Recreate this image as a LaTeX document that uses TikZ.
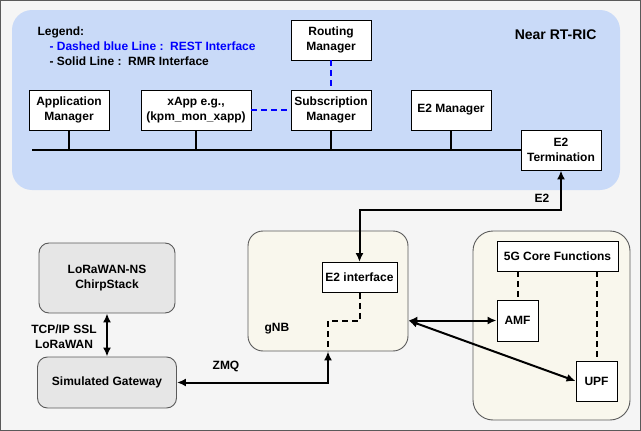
\documentclass[tikz,border=0pt]{standalone}
\usepackage{fontspec}
\setmainfont{Liberation Sans}
\usepackage{tikz}
\usetikzlibrary{arrows.meta}
\usetikzlibrary{calc}
\definecolor{ricblue}{RGB}{201,218,248}
\definecolor{cream}{RGB}{249,247,237}
\definecolor{boxgray}{RGB}{230,230,230}
\definecolor{framegray}{RGB}{245,245,245}
\definecolor{edgegray}{RGB}{90,90,90}

\begin{document}
\begin{tikzpicture}[x=1pt,y=-1pt,font=\bfseries\fontsize{12}{15}\selectfont,
    blk/.style={draw=black,fill=white,align=center,inner sep=0pt,line width=0.9pt},
    grayblk/.style={draw=edgegray,fill=boxgray,align=center,inner sep=0pt,line width=0.9pt,rounded corners=10pt},
    holder/.style={draw=edgegray,fill=cream,inner sep=0pt,line width=0.9pt},
    link/.style={line width=2pt},
    rest/.style={line width=2pt,draw=blue,dash pattern=on 6pt off 4pt},
    tie/.style={line width=2pt,dash pattern=on 6pt off 4pt},
    >={Latex[length=9pt,width=8pt]}]
            \useasboundingbox (0,0) rectangle (641,431);
            \filldraw[fill=framegray,draw=edgegray,line width=0.9pt] (0.5,0.5) rectangle (640.5,430.5);

            \node[fill=ricblue,rounded corners=20pt,minimum width=608pt,minimum height=180pt,inner sep=0pt] (ric) at (316,100) {};
            \node[anchor=east,font=\bfseries\fontsize{14}{16}\selectfont] (rictitle) at (600,35) {Near RT-RIC};

            \node[anchor=west] (legend) at (34,32) {Legend:};
            \node[anchor=west,text=blue] (legrest) at (46,46) {- Dashed blue Line :\ \ REST Interface};
            \node[anchor=west] (legrmr) at (46,61) {- Solid Line :\ \ RMR Interface};

            \node[blk,minimum width=80pt,minimum height=40pt] (appmgr) at (69,110) {Application\\Manager};
            \node[blk,minimum width=110pt,minimum height=40pt] (xapp) at (196,110) {xApp e.g.,\\(kpm\_mon\_xapp)};
            \node[blk,minimum width=80pt,minimum height=40pt] (submgr) at (331,110) {Subscription\\Manager};
            \node[blk,minimum width=80pt,minimum height=40pt] (rtmgr) at (331,40) {Routing\\Manager};
            \node[blk,minimum width=80pt,minimum height=40pt] (e2mgr) at (451,110) {E2 Manager};
            \node[blk,minimum width=80pt,minimum height=40pt] (e2term) at (561,150) {E2\\Termination};

            \coordinate (busstart) at (32,150);
            \draw[link] (busstart) -- (e2term.west);
            \draw[link] (appmgr.south) -- (appmgr.south |- busstart);
            \draw[link] (xapp.south) -- (xapp.south |- busstart);
            \draw[link] (submgr.south) -- (submgr.south |- busstart);
            \draw[link] (e2mgr.south) -- (e2mgr.south |- busstart);

            \draw[rest] (xapp.east) -- (submgr.west);
            \draw[rest] (rtmgr.south) -- (submgr.north);

            \node[holder,rounded corners=15pt,minimum width=160pt,minimum height=120pt] (gnb) at (328,291) {};
            \node[anchor=west] (gnblbl) at (261,329) {gNB};
            \node[blk,minimum width=75pt,minimum height=30pt] (e2if) at (359.5,277.5) {E2 interface};

            \node[holder,rounded corners=20pt,minimum width=157pt,minimum height=189pt] (core) at (551.5,325.5) {};
            \node[blk,minimum width=121pt,minimum height=30pt] (corefn) at (557.5,256) {5G Core Functions};
            \node[blk,minimum width=41pt,minimum height=41pt] (amf) at (517.5,320.5) {AMF};
            \node[blk,minimum width=41pt,minimum height=40pt] (upf) at (596.5,381) {UPF};

            \draw[tie] (amf.north |- corefn.south) -- (amf.north);
            \draw[tie] (upf.north |- corefn.south) -- (upf.north);

            \node[grayblk,minimum width=136pt,minimum height=70pt] (lorans) at (107,278) {LoRaWAN-NS\\ChirpStack};
            \node[grayblk,minimum width=139pt,minimum height=51pt] (gateway) at (107,382.5) {Simulated Gateway};

            \draw[link,<->] (e2term.south) -- ++(0,40) -| (e2if.north);
            \node (lble2) at (542,198) {E2};

            \draw[tie] (e2if.south) -- ++(0,28) -| (gnb.south);
            \draw[link,<->] (gateway.east) -| (gnb.south);
            \node (lblzmq) at (226,366) {ZMQ};

            \draw[link,<->] (lorans.south) -- (gateway.north);
            \node[align=center] (lbltcp) at (64,337) {TCP/IP SSL\\LoRaWAN};

            \coordinate (gnbport) at (gnb.east |- amf.west);
            \draw[link,<->] (gnbport) -- (amf.west);
            \draw[link,<->] (gnbport) -- (upf.west);
        \end{tikzpicture}
\end{document}
